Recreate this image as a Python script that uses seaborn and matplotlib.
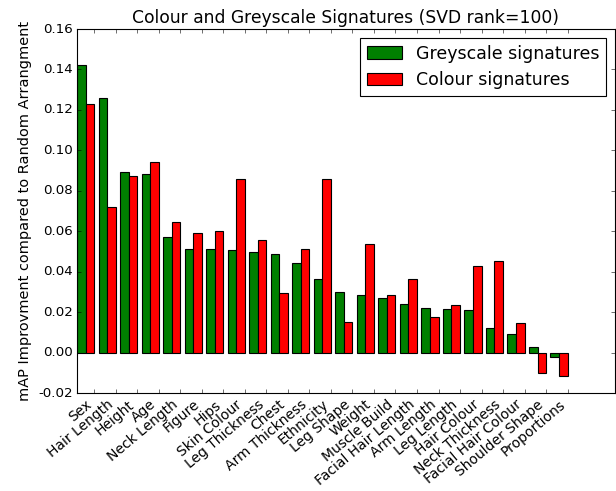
import numpy as np
import pandas as pd
import matplotlib
matplotlib.use("Agg")
import matplotlib.pyplot as plt
import seaborn as sns

# Attributes and mAP improvement over random arrangement
attributes = ['Sex', 'Hair Length', 'Height', 'Age', 'Neck Length', 'Figure', 'Hips',
              'Skin Colour', 'Leg Thickness', 'Chest', 'Arm Thickness', 'Ethnicity',
              'Leg Shape', 'Weight', 'Muscle Build', 'Facial Hair Length', 'Arm Length',
              'Leg Length', 'Hair Colour', 'Neck Thickness', 'Facial Hair Colour',
              'Shoulder Shape', 'Proportions']
grey = [0.1424, 0.1260, 0.0891, 0.0883, 0.0569, 0.0513, 0.0513, 0.0506, 0.0498, 0.0488,
        0.0442, 0.0363, 0.0300, 0.0284, 0.0269, 0.0241, 0.0222, 0.0214, 0.0212, 0.0122,
        0.0092, 0.0026, -0.0020]
colour = [0.1229, 0.0722, 0.0873, 0.0942, 0.0648, 0.0591, 0.0600, 0.0858, 0.0556, 0.0293,
          0.0514, 0.0858, 0.0150, 0.0539, 0.0284, 0.0364, 0.0175, 0.0234, 0.0429, 0.0453,
          0.0147, -0.0099, -0.0116]
series = ['Greyscale signatures', 'Colour signatures']

df = pd.DataFrame({
    'attribute': attributes * 2,
    'value': grey + colour,
    'kind': [series[0]] * len(grey) + [series[1]] * len(colour),
})

plt.style.use('classic')
plt.rcParams['font.family'] = ['DejaVu Sans']

fig = plt.figure(figsize=(616 / 80, 491 / 80), dpi=80, facecolor='white')
ax = fig.add_axes([77 / 616, 1 - 393 / 491, (615 - 77) / 616, (393 - 29) / 491])

sns.barplot(data=df, x='attribute', y='value', hue='kind', order=attributes,
            hue_order=series, palette=['#008000', '#ff0000'], saturation=1,
            edgecolor='black', linewidth=1.0, errorbar=None, ax=ax)

n = len(attributes)
ax.set_xticks(np.arange(n) + 0.4)
ax.set_xticklabels(attributes, rotation=40, ha='right', fontsize=12.5)
ax.set_xlim(-0.4, 24.6)
ax.set_ylim(-0.02, 0.16)
ax.set_yticks(np.arange(-0.02, 0.161, 0.02))
ax.yaxis.set_major_formatter(matplotlib.ticker.FormatStrFormatter('%.2f'))
ax.tick_params(axis='y', labelsize=12)
ax.tick_params(direction='in', top=True, right=True, length=4)
ax.set_xlabel('')
ax.set_ylabel('mAP Improvment compared to Random Arrangment', fontsize=13)
ax.set_title('Colour and Greyscale Signatures (SVD rank=100)', fontsize=15.4)
ax.legend(loc='upper right', fancybox=False, fontsize=15.6, title=None)

fig.savefig('out.png', dpi=80, facecolor='white')
